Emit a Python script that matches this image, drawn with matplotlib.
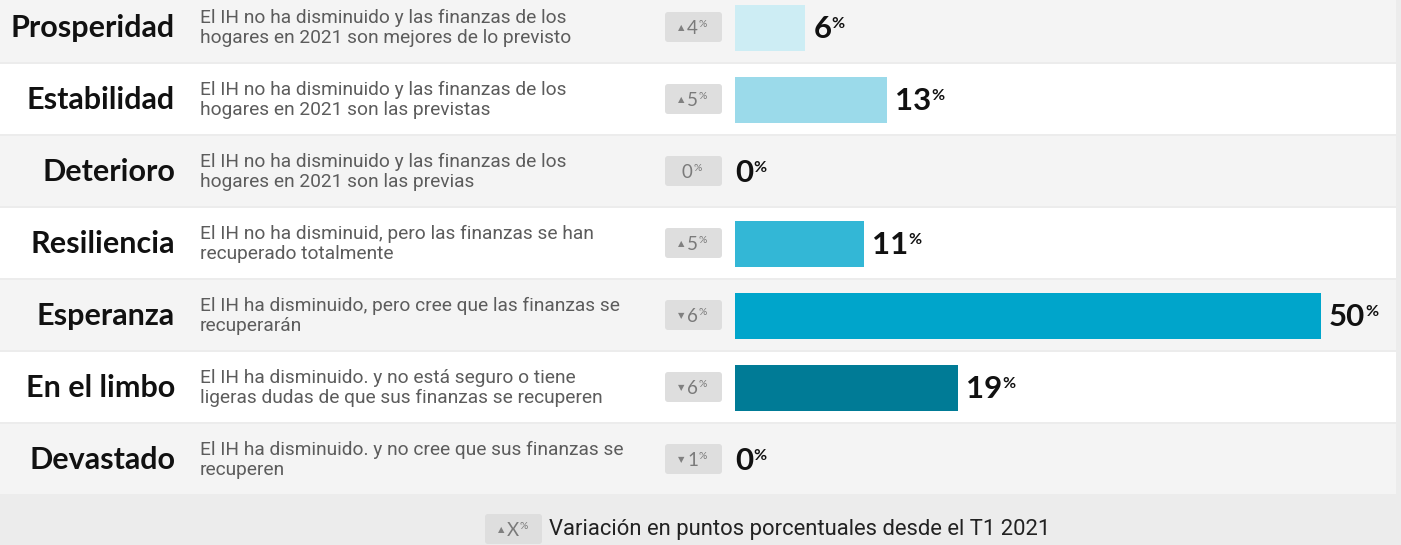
import matplotlib
matplotlib.use("Agg")
import matplotlib.pyplot as plt
from matplotlib.patches import Rectangle, FancyBboxPatch
from matplotlib.transforms import offset_copy

# ---------------- data ----------------
categories = ["Prosperidad", "Estabilidad", "Deterioro", "Resiliencia",
              "Esperanza", "En el limbo", "Devastado"]
descriptions = [
    "El IH no ha disminuido y las finanzas de los\nhogares en 2021 son mejores de lo previsto",
    "El IH no ha disminuido y las finanzas de los\nhogares en 2021 son las previstas",
    "El IH no ha disminuido y las finanzas de los\nhogares en 2021 son las previas",
    "El IH no ha disminuid, pero las finanzas se han\nrecuperado totalmente",
    "El IH ha disminuido, pero cree que las finanzas se\nrecuperarán",
    "El IH ha disminuido. y no está seguro o tiene\nligeras dudas de que sus finanzas se recuperen",
    "El IH ha disminuido. y no cree que sus finanzas se\nrecuperen",
]
values = [6, 13, 0, 11, 50, 19, 0]
changes = [4, 5, 0, 5, -6, -6, -1]
bar_colors = ["#cdedf4", "#9bdaea", "#66c8e0", "#33b7d6", "#00a5cb", "#007b96", "#005f73"]
legend_text = "Variación en puntos porcentuales desde el T1 2021"

# ---------------- layout ----------------
W, H = 1401, 545
fig = plt.figure(figsize=(W / 100, H / 100), dpi=100)
fig.patch.set_facecolor("#ececec")

ax = fig.add_axes([0, 0, 1, 1])
ax.set_xlim(0, W)
ax.set_ylim(H, 0)
ax.axis("off")

ROW0, STEP, ROWH = 27, 72, 70
n = len(categories)
centers = [ROW0 + STEP * i for i in range(n)]

for i, c in enumerate(centers):
    face = "#f4f4f4" if i % 2 == 0 else "#ffffff"
    ax.add_patch(Rectangle((0, c - ROWH / 2), 1396, ROWH, facecolor=face,
                           edgecolor="none", zorder=1))

cat_font = "Lato"
desc_font = "Roboto"

for i, c in enumerate(centers):
    ax.text(175, c + 1, categories[i], ha="right", va="center",
            fontsize=22, fontweight="bold", family=cat_font, color="#111111", zorder=3)
    ax.text(200, c + 1, descriptions[i], ha="left", va="center",
            fontsize=13.8, fontweight="normal", family=desc_font, color="#5c5c5c",
            linespacing=1.1, zorder=3)


def badge(x0, c, ch, marker=None):
    ax.add_patch(FancyBboxPatch((x0, c - 15), 57, 30,
                                boxstyle="round,pad=0,rounding_size=3",
                                facecolor="#dedede", edgecolor="none", zorder=2))
    label = "X" if marker else str(abs(ch))
    if ch == 0 and not marker:
        t = ax.text(x0 + 17, c + 1, label, ha="left", va="center", fontsize=13.5,
                    family=cat_font, color="#7a7a7a", zorder=3)
    else:
        arrow = "▲" if ch >= 0 else "▼"
        ax.text(x0 + 16, c + 1, arrow, ha="center", va="center", fontsize=6,
                family="DejaVu Sans", color="#808080", zorder=3)
        t = ax.text(x0 + 22, c + 1, label, ha="left", va="center", fontsize=13.5,
                    family=cat_font, color="#7a7a7a", zorder=3)
    ax.annotate("%", xy=(1.0, 0.95), xycoords=t, xytext=(0.3, 0), textcoords="offset points",
                ha="left", va="top", fontsize=7.5, family=cat_font, color="#7a7a7a", zorder=3)


for i, c in enumerate(centers):
    badge(665, c, changes[i])

# bar axes: x in percent, y in row index
x0px, x1px = 735, 1321
bax = fig.add_axes([x0px / W, 0, (x1px - x0px) / W, 1])
bax.set_xlim(0, 50)
bax.set_ylim((H - ROW0) / STEP, -ROW0 / STEP)
bax.axis("off")
bax.patch.set_alpha(0)
rows = list(range(n))
bax.barh([r + 1 / STEP for r in rows], values, height=46 / STEP, color=bar_colors, zorder=2)

for r, v in zip(rows, values):
    off = 8 if v > 0 else 0
    tr = offset_copy(bax.transData, fig=fig, x=off * 0.72, y=0, units="points")
    t = bax.text(v, r + 2 / STEP, str(v), transform=tr, ha="left", va="center",
                 fontsize=22.5, fontweight="bold", family=cat_font, color="#111111", zorder=3)
    bax.annotate("%", xy=(1.0, 0.92), xycoords=t, xytext=(0, 0), textcoords="offset points",
                 ha="left", va="top", fontsize=11.5, fontweight="bold", family=cat_font,
                 color="#111111", zorder=3)

# legend
lc = 529
badge(485, lc, 1, marker=True)
ax.text(549, lc + 1, legend_text, ha="left", va="center", fontsize=15.8,
        fontweight="normal", family=desc_font, color="#222222", zorder=3)

fig.savefig("out.png", dpi=100, facecolor=fig.get_facecolor())
